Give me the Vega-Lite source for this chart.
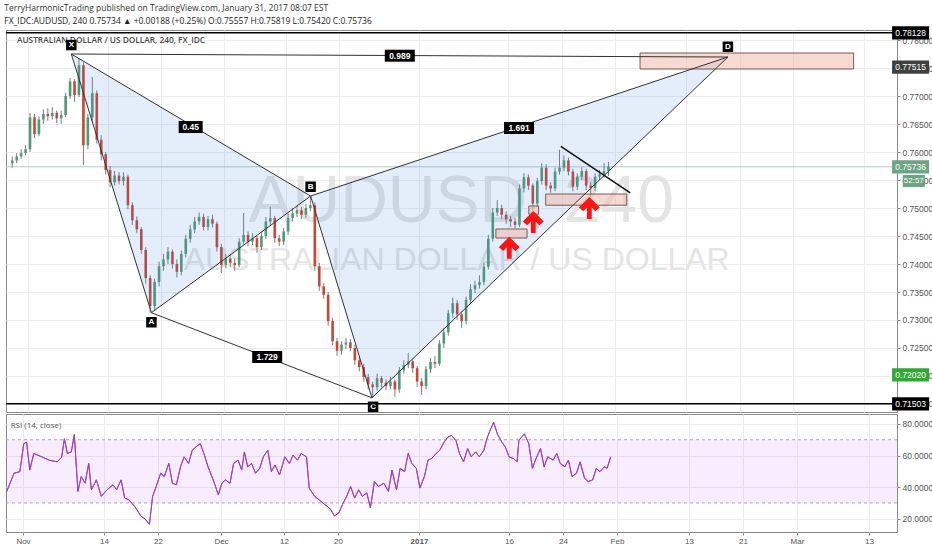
{
"$schema":"https://vega.github.io/schema/vega-lite/v6.json",
"background":"#ffffff",
"padding":{"left":4,"top":3,"right":0,"bottom":0},
"title":{"text":"TerryHarmonicTrading published on TradingView.com, January 31, 2017 08:07 EST","subtitle":"FX_IDC:AUDUSD, 240  0.75734 ▲ +0.00188 (+0.25%)  O:0.75557  H:0.75819  L:0.75420  C:0.75736","anchor":"start","frame":"bounds","font":"Open Sans","fontSize":8.5,"fontWeight":"normal","color":"#333333","subtitleFont":"Open Sans","subtitleFontSize":8.5,"subtitleFontWeight":"normal","subtitleColor":"#222222","subtitlePadding":4.5,"offset":0.5},
"spacing":2,
"bounds":"flush",
"datasets":{
"candles":[
{"t":-1.75,"o":0.7580,"h":0.7592,"l":0.7572,"c":0.7585},
{"t":-1.25,"o":0.7585,"h":0.7598,"l":0.7580,"c":0.7592},
{"t":-0.75,"o":0.7592,"h":0.7605,"l":0.7588,"c":0.7598},
{"t":-0.25,"o":0.7598,"h":0.7612,"l":0.7594,"c":0.7605},
{"t":0.25,"o":0.7605,"h":0.7670,"l":0.7600,"c":0.7662},
{"t":0.75,"o":0.7662,"h":0.7668,"l":0.7625,"c":0.7632},
{"t":1.25,"o":0.7632,"h":0.7664,"l":0.7628,"c":0.7658},
{"t":1.75,"o":0.7658,"h":0.7676,"l":0.7650,"c":0.7668},
{"t":2.25,"o":0.7668,"h":0.7678,"l":0.7656,"c":0.7664},
{"t":2.75,"o":0.7664,"h":0.7680,"l":0.7658,"c":0.7670},
{"t":3.25,"o":0.7670,"h":0.7674,"l":0.7652,"c":0.7660},
{"t":3.75,"o":0.7660,"h":0.7674,"l":0.7650,"c":0.7666},
{"t":4.25,"o":0.7666,"h":0.7706,"l":0.7662,"c":0.7700},
{"t":4.75,"o":0.7700,"h":0.7732,"l":0.7695,"c":0.7726},
{"t":5.25,"o":0.7726,"h":0.7730,"l":0.7690,"c":0.7702},
{"t":5.75,"o":0.7702,"h":0.7768,"l":0.7698,"c":0.7755},
{"t":6.25,"o":0.7755,"h":0.7760,"l":0.7577,"c":0.7612},
{"t":6.75,"o":0.7612,"h":0.7668,"l":0.7605,"c":0.7662},
{"t":7.25,"o":0.7662,"h":0.7734,"l":0.7655,"c":0.7705},
{"t":7.75,"o":0.7705,"h":0.7710,"l":0.7615,"c":0.7622},
{"t":8.25,"o":0.7622,"h":0.7630,"l":0.7585,"c":0.7596},
{"t":8.75,"o":0.7596,"h":0.7600,"l":0.7560,"c":0.7568},
{"t":9.25,"o":0.7568,"h":0.7575,"l":0.7537,"c":0.7546},
{"t":9.75,"o":0.7546,"h":0.7566,"l":0.7540,"c":0.7558},
{"t":10.25,"o":0.7558,"h":0.7564,"l":0.7542,"c":0.7548},
{"t":10.75,"o":0.7548,"h":0.7564,"l":0.7540,"c":0.7556},
{"t":11.25,"o":0.7556,"h":0.7560,"l":0.7498,"c":0.7505},
{"t":11.75,"o":0.7505,"h":0.7510,"l":0.7470,"c":0.7478},
{"t":12.25,"o":0.7478,"h":0.7485,"l":0.7455,"c":0.7462},
{"t":12.75,"o":0.7462,"h":0.7466,"l":0.7418,"c":0.7425},
{"t":13.25,"o":0.7425,"h":0.7430,"l":0.7365,"c":0.7375},
{"t":13.75,"o":0.7375,"h":0.7380,"l":0.7313,"c":0.7325},
{"t":14.25,"o":0.7325,"h":0.7374,"l":0.7318,"c":0.7368},
{"t":14.75,"o":0.7368,"h":0.7404,"l":0.7360,"c":0.7396},
{"t":15.25,"o":0.7396,"h":0.7418,"l":0.7388,"c":0.7408},
{"t":15.75,"o":0.7408,"h":0.7430,"l":0.7400,"c":0.7422},
{"t":16.25,"o":0.7422,"h":0.7426,"l":0.7392,"c":0.7400},
{"t":16.75,"o":0.7400,"h":0.7408,"l":0.7376,"c":0.7386},
{"t":17.25,"o":0.7386,"h":0.7424,"l":0.7380,"c":0.7418},
{"t":17.75,"o":0.7418,"h":0.7452,"l":0.7412,"c":0.7445},
{"t":18.25,"o":0.7445,"h":0.7470,"l":0.7438,"c":0.7462},
{"t":18.75,"o":0.7462,"h":0.7484,"l":0.7455,"c":0.7476},
{"t":19.25,"o":0.7476,"h":0.7492,"l":0.7470,"c":0.7484},
{"t":19.75,"o":0.7484,"h":0.7490,"l":0.7460,"c":0.7466},
{"t":20.25,"o":0.7466,"h":0.7486,"l":0.7460,"c":0.7480},
{"t":20.75,"o":0.7480,"h":0.7488,"l":0.7465,"c":0.7472},
{"t":21.25,"o":0.7472,"h":0.7476,"l":0.7422,"c":0.7430},
{"t":21.75,"o":0.7430,"h":0.7436,"l":0.7384,"c":0.7398},
{"t":22.25,"o":0.7398,"h":0.7418,"l":0.7392,"c":0.7410},
{"t":22.75,"o":0.7410,"h":0.7416,"l":0.7395,"c":0.7402},
{"t":23.25,"o":0.7402,"h":0.7410,"l":0.7388,"c":0.7398},
{"t":23.75,"o":0.7398,"h":0.7446,"l":0.7394,"c":0.7440},
{"t":24.25,"o":0.7440,"h":0.7491,"l":0.7436,"c":0.7452},
{"t":24.75,"o":0.7452,"h":0.7458,"l":0.7432,"c":0.7440},
{"t":25.25,"o":0.7440,"h":0.7455,"l":0.7434,"c":0.7446},
{"t":25.75,"o":0.7446,"h":0.7450,"l":0.7420,"c":0.7430},
{"t":26.25,"o":0.7430,"h":0.7458,"l":0.7425,"c":0.7450},
{"t":26.75,"o":0.7450,"h":0.7484,"l":0.7445,"c":0.7476},
{"t":27.25,"o":0.7476,"h":0.7502,"l":0.7470,"c":0.7482},
{"t":27.75,"o":0.7482,"h":0.7486,"l":0.7438,"c":0.7446},
{"t":28.25,"o":0.7446,"h":0.7452,"l":0.7432,"c":0.7440},
{"t":28.75,"o":0.7440,"h":0.7464,"l":0.7434,"c":0.7458},
{"t":29.25,"o":0.7458,"h":0.7490,"l":0.7452,"c":0.7482},
{"t":29.75,"o":0.7482,"h":0.7500,"l":0.7476,"c":0.7490},
{"t":30.25,"o":0.7490,"h":0.7504,"l":0.7484,"c":0.7496},
{"t":30.75,"o":0.7496,"h":0.7502,"l":0.7480,"c":0.7488},
{"t":31.25,"o":0.7488,"h":0.7508,"l":0.7482,"c":0.7500},
{"t":31.75,"o":0.7500,"h":0.7521,"l":0.7494,"c":0.7505},
{"t":32.25,"o":0.7505,"h":0.7510,"l":0.7388,"c":0.7396},
{"t":32.75,"o":0.7396,"h":0.7402,"l":0.7352,"c":0.7360},
{"t":33.25,"o":0.7360,"h":0.7366,"l":0.7338,"c":0.7345},
{"t":33.75,"o":0.7345,"h":0.7350,"l":0.7290,"c":0.7298},
{"t":34.25,"o":0.7298,"h":0.7304,"l":0.7255,"c":0.7262},
{"t":34.75,"o":0.7262,"h":0.7268,"l":0.7236,"c":0.7245},
{"t":35.25,"o":0.7245,"h":0.7262,"l":0.7238,"c":0.7256},
{"t":35.75,"o":0.7256,"h":0.7268,"l":0.7248,"c":0.7260},
{"t":36.25,"o":0.7260,"h":0.7266,"l":0.7244,"c":0.7250},
{"t":36.75,"o":0.7250,"h":0.7256,"l":0.7220,"c":0.7228},
{"t":37.25,"o":0.7228,"h":0.7234,"l":0.7208,"c":0.7216},
{"t":37.75,"o":0.7216,"h":0.7222,"l":0.7190,"c":0.7198},
{"t":38.25,"o":0.7198,"h":0.7204,"l":0.7176,"c":0.7185},
{"t":38.75,"o":0.7185,"h":0.7190,"l":0.7161,"c":0.7180},
{"t":39.25,"o":0.7180,"h":0.7204,"l":0.7174,"c":0.7196},
{"t":39.75,"o":0.7196,"h":0.7200,"l":0.7180,"c":0.7188},
{"t":40.25,"o":0.7188,"h":0.7194,"l":0.7175,"c":0.7182},
{"t":40.75,"o":0.7182,"h":0.7198,"l":0.7176,"c":0.7190},
{"t":41.25,"o":0.7190,"h":0.7194,"l":0.7163,"c":0.7176},
{"t":41.75,"o":0.7176,"h":0.7216,"l":0.7170,"c":0.7210},
{"t":42.25,"o":0.7210,"h":0.7228,"l":0.7204,"c":0.7220},
{"t":42.75,"o":0.7220,"h":0.7241,"l":0.7214,"c":0.7226},
{"t":43.25,"o":0.7226,"h":0.7230,"l":0.7206,"c":0.7214},
{"t":43.75,"o":0.7214,"h":0.7218,"l":0.7180,"c":0.7190},
{"t":44.25,"o":0.7190,"h":0.7196,"l":0.7166,"c":0.7182},
{"t":44.75,"o":0.7182,"h":0.7218,"l":0.7176,"c":0.7212},
{"t":45.25,"o":0.7212,"h":0.7232,"l":0.7205,"c":0.7225},
{"t":45.75,"o":0.7225,"h":0.7236,"l":0.7214,"c":0.7222},
{"t":46.25,"o":0.7222,"h":0.7264,"l":0.7218,"c":0.7258},
{"t":46.75,"o":0.7258,"h":0.7286,"l":0.7250,"c":0.7278},
{"t":47.25,"o":0.7278,"h":0.7318,"l":0.7272,"c":0.7312},
{"t":47.75,"o":0.7312,"h":0.7340,"l":0.7304,"c":0.7330},
{"t":48.25,"o":0.7330,"h":0.7336,"l":0.7300,"c":0.7310},
{"t":48.75,"o":0.7310,"h":0.7316,"l":0.7286,"c":0.7298},
{"t":49.25,"o":0.7298,"h":0.7342,"l":0.7292,"c":0.7336},
{"t":49.75,"o":0.7336,"h":0.7364,"l":0.7330,"c":0.7355},
{"t":50.25,"o":0.7355,"h":0.7370,"l":0.7348,"c":0.7362},
{"t":50.75,"o":0.7362,"h":0.7380,"l":0.7356,"c":0.7368},
{"t":51.25,"o":0.7368,"h":0.7402,"l":0.7362,"c":0.7395},
{"t":51.75,"o":0.7395,"h":0.7452,"l":0.7390,"c":0.7445},
{"t":52.25,"o":0.7445,"h":0.7500,"l":0.7440,"c":0.7492},
{"t":52.75,"o":0.7492,"h":0.7514,"l":0.7486,"c":0.7500},
{"t":53.25,"o":0.7500,"h":0.7506,"l":0.7480,"c":0.7488},
{"t":53.75,"o":0.7488,"h":0.7494,"l":0.7472,"c":0.7480},
{"t":54.25,"o":0.7480,"h":0.7486,"l":0.7466,"c":0.7476},
{"t":54.75,"o":0.7476,"h":0.7482,"l":0.7464,"c":0.7470},
{"t":55.25,"o":0.7470,"h":0.7542,"l":0.7466,"c":0.7535},
{"t":55.75,"o":0.7535,"h":0.7562,"l":0.7528,"c":0.7555},
{"t":56.25,"o":0.7555,"h":0.7560,"l":0.7532,"c":0.7540},
{"t":56.75,"o":0.7540,"h":0.7544,"l":0.7496,"c":0.7508},
{"t":57.25,"o":0.7508,"h":0.7554,"l":0.7502,"c":0.7548},
{"t":57.75,"o":0.7548,"h":0.7580,"l":0.7542,"c":0.7572},
{"t":58.25,"o":0.7572,"h":0.7578,"l":0.7532,"c":0.7540},
{"t":58.75,"o":0.7540,"h":0.7546,"l":0.7527,"c":0.7535},
{"t":59.25,"o":0.7535,"h":0.7572,"l":0.7530,"c":0.7565},
{"t":59.75,"o":0.7565,"h":0.7604,"l":0.7560,"c":0.7572},
{"t":60.25,"o":0.7572,"h":0.7594,"l":0.7566,"c":0.7585},
{"t":60.75,"o":0.7585,"h":0.7590,"l":0.7558,"c":0.7565},
{"t":61.25,"o":0.7565,"h":0.7570,"l":0.7530,"c":0.7538},
{"t":61.75,"o":0.7538,"h":0.7562,"l":0.7532,"c":0.7556},
{"t":62.25,"o":0.7556,"h":0.7573,"l":0.7550,"c":0.7566},
{"t":62.75,"o":0.7566,"h":0.7570,"l":0.7532,"c":0.7540},
{"t":63.25,"o":0.7540,"h":0.7546,"l":0.7520,"c":0.7536},
{"t":63.75,"o":0.7536,"h":0.7562,"l":0.7530,"c":0.7556},
{"t":64.25,"o":0.7556,"h":0.7568,"l":0.7550,"c":0.7560},
{"t":64.75,"o":0.7560,"h":0.7580,"l":0.7554,"c":0.7566},
{"t":65.25,"o":0.7566,"h":0.7582,"l":0.7557,"c":0.7574}
],
"rsi":[
{"t":-1.8,"r":37.3},{"t":-1.0,"r":48.8},{"t":-0.35,"r":49.8},{"t":0.08,"r":67.5},{"t":0.4,"r":68.5},{"t":0.75,"r":50.8},{"t":1.2,"r":61.3},{"t":2.07,"r":59.2},{"t":2.95,"r":57},{"t":3.8,"r":56},{"t":4.3,"r":59},{"t":4.6,"r":70.6},{"t":4.93,"r":61.3},{"t":5.37,"r":62.3},{"t":5.7,"r":73.3},{"t":6.1,"r":37.3},{"t":6.47,"r":46.7},{"t":6.9,"r":42.5},{"t":7.3,"r":55},{"t":7.6,"r":38.3},{"t":8.15,"r":44.6},{"t":8.7,"r":34.2},{"t":9.33,"r":38.3},{"t":10,"r":41.5},{"t":10.4,"r":38.3},{"t":10.9,"r":44.6},{"t":11.3,"r":33.1},{"t":11.75,"r":32},{"t":12.4,"r":27.9},{"t":13.1,"r":21.7},{"t":13.6,"r":19.6},{"t":14.05,"r":16.5},{"t":14.4,"r":34.2},{"t":14.8,"r":40.4},{"t":15.3,"r":48.8},{"t":15.7,"r":46.7},{"t":16.2,"r":55},{"t":16.6,"r":42.5},{"t":17.04,"r":41.5},{"t":17.5,"r":52.9},{"t":17.9,"r":59.2},{"t":18.4,"r":55},{"t":18.8,"r":63.3},{"t":19.2,"r":65.4},{"t":19.7,"r":67.5},{"t":20.1,"r":61.3},{"t":20.56,"r":52.9},{"t":21.2,"r":43.5},{"t":21.7,"r":35.2},{"t":22.1,"r":42.5},{"t":22.5,"r":44.6},{"t":23,"r":42.5},{"t":23.4,"r":55},{"t":23.9,"r":57.1},{"t":24.3,"r":50.8},{"t":24.6,"r":62.3},{"t":24.96,"r":52.9},{"t":25.4,"r":55},{"t":25.84,"r":48.8},{"t":26.3,"r":51.9},{"t":26.7,"r":59.2},{"t":27.2,"r":63.3},{"t":27.6,"r":49.8},{"t":28,"r":54},{"t":28.5,"r":47.7},{"t":29.1,"r":59.2},{"t":29.6,"r":55},{"t":30,"r":60.2},{"t":30.5,"r":57.1},{"t":30.9,"r":61.3},{"t":31.5,"r":59.2},{"t":31.8,"r":39.4},{"t":32.4,"r":34.2},{"t":32.9,"r":32},{"t":33.3,"r":30},{"t":33.8,"r":27.9},{"t":34.2,"r":25.8},{"t":34.6,"r":21.7},{"t":35.1,"r":23.8},{"t":35.5,"r":29},{"t":35.97,"r":34.2},{"t":36.4,"r":40.4},{"t":36.85,"r":33.1},{"t":37.3,"r":38.3},{"t":37.7,"r":34.2},{"t":38.2,"r":36.3},{"t":38.6,"r":26.9},{"t":39.05,"r":43.5},{"t":39.5,"r":40.4},{"t":40.1,"r":42.5},{"t":40.6,"r":37.3},{"t":41,"r":50.8},{"t":41.5,"r":38.3},{"t":41.9,"r":51.9},{"t":42.4,"r":49.8},{"t":42.8,"r":61.3},{"t":43.2,"r":55},{"t":43.7,"r":51.9},{"t":44.1,"r":39.4},{"t":44.6,"r":46.7},{"t":45,"r":57.1},{"t":45.4,"r":58.1},{"t":45.9,"r":61.3},{"t":46.3,"r":63.3},{"t":46.8,"r":68.5},{"t":47.2,"r":71.7},{"t":47.6,"r":72.7},{"t":48.1,"r":69.6},{"t":48.5,"r":61.3},{"t":48.95,"r":56},{"t":49.4,"r":64.4},{"t":49.8,"r":59.2},{"t":50.3,"r":62.3},{"t":50.7,"r":59.2},{"t":51.2,"r":63.3},{"t":51.6,"r":71.7},{"t":52.05,"r":77.9},{"t":52.3,"r":81},{"t":52.7,"r":73.8},{"t":53.2,"r":68.5},{"t":53.6,"r":65.4},{"t":54,"r":59.2},{"t":54.5,"r":58.1},{"t":54.9,"r":56},{"t":55.1,"r":69.6},{"t":55.7,"r":73.8},{"t":56.2,"r":67.5},{"t":56.6,"r":51.9},{"t":57,"r":58.1},{"t":57.5,"r":64.4},{"t":57.9,"r":52.9},{"t":58.3,"r":59.2},{"t":58.9,"r":57.1},{"t":59.3,"r":61.3},{"t":59.7,"r":55},{"t":60.2,"r":52.9},{"t":60.6,"r":57.1},{"t":61,"r":46.7},{"t":61.5,"r":48.8},{"t":61.9,"r":56},{"t":62.4,"r":45.6},{"t":62.8,"r":43.5},{"t":63.3,"r":44.6},{"t":63.7,"r":51.9},{"t":64.1,"r":49.8},{"t":64.6,"r":52.9},{"t":64.9,"r":51.9},{"t":65.3,"r":59.2}
],
"legs":[
{"t1":4.889,"p1":0.7775,"t2":13.89,"p2":0.7313},
{"t1":13.89,"p1":0.7313,"t2":31.78,"p2":0.75214},
{"t1":31.78,"p1":0.75214,"t2":38.67,"p2":0.7161},
{"t1":38.67,"p1":0.7161,"t2":78.67,"p2":0.77696},
{"t1":4.889,"p1":0.7775,"t2":31.78,"p2":0.75214},
{"t1":13.89,"p1":0.7313,"t2":38.67,"p2":0.7161},
{"t1":31.78,"p1":0.75214,"t2":78.67,"p2":0.77696},
{"t1":4.889,"p1":0.7775,"t2":78.67,"p2":0.77696}
],
"tri":[
{"g":"XAB","t":4.889,"p":0.7775,"p2":0.7775},
{"g":"XAB","t":13.89,"p":0.7313,"p2":0.76901},
{"g":"XAB","t":31.78,"p":0.75214,"p2":0.75214},
{"g":"BCD","t":31.78,"p":0.75214,"p2":0.75214},
{"g":"BCD","t":38.67,"p":0.7161,"p2":0.75579},
{"g":"BCD","t":78.67,"p":0.77696,"p2":0.77696}
],
"zones":[
{"t1":52.6,"t2":56.1,"p1":0.74625,"p2":0.74464},
{"t1":56.3,"t2":57.4,"p1":0.75036,"p2":0.7489},
{"t1":58.2,"t2":67.3,"p1":0.7525,"p2":0.7505},
{"t1":68.8,"t2":92.8,"p1":0.77768,"p2":0.77482}
],
"arrows":[{"t":54.1,"p":0.7429},{"t":56.8,"p":0.7475},{"t":63.1,"p":0.75}],
"ratios":[{"t":18.3,"p":0.76446,"lbl":"0.45"},{"t":26.9,"p":0.72339,"lbl":"1.729"},{"t":55.2,"p":0.76429,"lbl":"1.691"},{"t":41.8,"p":0.7772,"lbl":"0.989"}],
"points":[{"t":4.889,"p":0.7791,"lbl":"X"},{"t":13.89,"p":0.7296,"lbl":"A"},{"t":31.78,"p":0.7538,"lbl":"B"},{"t":38.8,"p":0.7145,"lbl":"C"},{"t":78.67,"p":0.7788,"lbl":"D"}],
"badges":[{"p":0.78128,"lbl":"0.78128","kind":"line"},{"p":0.77515,"lbl":"0.77515","kind":"zone"},{"p":0.75736,"lbl":"0.75736","kind":"last"},{"p":0.7202,"lbl":"0.72020","kind":"prev"},{"p":0.71503,"lbl":"0.71503","kind":"line"}]
},
"vconcat":[
{"width":891,"height":382,
"layer":[
{"data":{"values":[{"t":48.7,"p":0.7511,"txt":"AUDUSD, 240"}]},
 "mark":{"type":"text","font":"Liberation Sans","fontSize":66,"color":"#e4e4e4","align":"center","baseline":"middle"},
 "encoding":{
  "x":{"field":"t","type":"quantitative","title":null,"scale":{"domain":[-1.889,97.111],"nice":false,"zero":false},"axis":{"values":[0,9,15,22,29,35,44,54,60,66,74,80,86,94],"tickCount":40,"labels":false,"ticks":false,"grid":true,"title":null}},
  "y":{"field":"p","type":"quantitative","title":null,"scale":{"domain":[0.71357,0.78179],"nice":false,"zero":false},"axis":{"orient":"right","values":[0.715,0.72,0.725,0.73,0.735,0.74,0.745,0.75,0.755,0.76,0.765,0.77,0.775,0.78],"tickCount":40,"format":".5f","labelOverlap":false,"grid":true,"ticks":true,"tickSize":3,"labelPadding":2,"labelLimit":31,"title":null}},
  "text":{"field":"txt"}}},
{"data":{"values":[{"t":48.2,"p":0.7407,"txt":"AUSTRALIAN DOLLAR / US DOLLAR"}]},
 "mark":{"type":"text","font":"Liberation Sans","fontSize":32,"color":"#e4e4e4","align":"center","baseline":"middle"},
 "encoding":{"x":{"field":"t","type":"quantitative","title":null},"y":{"field":"p","type":"quantitative","title":null},"text":{"field":"txt"}}},
{"data":{"values":[{"t":-1.22,"p":0.77982,"txt":"AUSTRALIAN DOLLAR / US DOLLAR, 240, FX_IDC"}]},
 "mark":{"type":"text","font":"Open Sans","fontSize":8.3,"fontWeight":600,"color":"#4a4a4a","align":"left","baseline":"middle"},
 "encoding":{"x":{"field":"t","type":"quantitative","title":null},"y":{"field":"p","type":"quantitative","title":null},"text":{"field":"txt"}}},
{"data":{"values":[{"p":0.75736}]},
 "mark":{"type":"rule","color":"#b9cbbf","strokeWidth":1},
 "encoding":{"y":{"field":"p","type":"quantitative","title":null}}},
{"data":{"name":"candles"},
 "mark":{"type":"rule","color":"#7d7d7d","strokeWidth":1},
 "encoding":{"x":{"field":"t","type":"quantitative","title":null},"y":{"field":"l","type":"quantitative","title":null},"y2":{"field":"h"}}},
{"data":{"name":"candles"},
 "mark":{"type":"bar","size":2.6},
 "encoding":{"x":{"field":"t","type":"quantitative","title":null},"y":{"field":"o","type":"quantitative","title":null},"y2":{"field":"c"},
  "color":{"condition":{"test":"datum.c >= datum.o","value":"#4f9a74"},"value":"#c4473a"}}},
{"data":{"name":"tri"},
 "mark":{"type":"area","color":"#3f7fdc","opacity":0.14},
 "encoding":{"x":{"field":"t","type":"quantitative","title":null},"y":{"field":"p","type":"quantitative","title":null},"y2":{"field":"p2"},"detail":{"field":"g"}}},
{"data":{"name":"zones"},
 "mark":{"type":"rect","fill":"#eeb9aa","fillOpacity":0.55,"stroke":"#7b5a55","strokeWidth":1},
 "encoding":{"x":{"field":"t1","type":"quantitative","title":null},"x2":{"field":"t2"},"y":{"field":"p1","type":"quantitative","title":null},"y2":{"field":"p2"}}},
{"data":{"name":"legs"},
 "mark":{"type":"rule","color":"#333333","strokeWidth":1},
 "encoding":{"x":{"field":"t1","type":"quantitative","title":null},"x2":{"field":"t2"},"y":{"field":"p1","type":"quantitative","title":null},"y2":{"field":"p2"}}},
{"data":{"values":[{"t1":59.9,"p1":0.761,"t2":67.7,"p2":0.7527}]},
 "mark":{"type":"rule","color":"#111111","strokeWidth":1.5},
 "encoding":{"x":{"field":"t1","type":"quantitative","title":null},"x2":{"field":"t2"},"y":{"field":"p1","type":"quantitative","title":null},"y2":{"field":"p2"}}},
{"data":{"name":"arrows"},
 "mark":{"type":"point","shape":"M0,-1L0.95,-0.05L0.55,0.3L0.22,-0.05L0.22,1L-0.22,1L-0.22,-0.05L-0.55,0.3L-0.95,-0.05Z","size":484,"filled":true,"color":"#ff1212","opacity":1},
 "encoding":{"x":{"field":"t","type":"quantitative","title":null},"y":{"field":"p","type":"quantitative","title":null}}},
{"data":{"name":"ratios"},"transform":[{"filter":"length(datum.lbl) > 4"}],
 "mark":{"type":"point","shape":"M-1,-0.4L1,-0.4L1,0.4L-1,0.4Z","size":900,"filled":true,"color":"#000000","opacity":1},
 "encoding":{"x":{"field":"t","type":"quantitative","title":null},"y":{"field":"p","type":"quantitative","title":null}}},
{"data":{"name":"ratios"},"transform":[{"filter":"length(datum.lbl) <= 4"}],
 "mark":{"type":"point","shape":"M-1,-0.5L1,-0.5L1,0.5L-1,0.5Z","size":576,"filled":true,"color":"#000000","opacity":1},
 "encoding":{"x":{"field":"t","type":"quantitative","title":null},"y":{"field":"p","type":"quantitative","title":null}}},
{"data":{"name":"ratios"},
 "mark":{"type":"text","font":"Liberation Sans","fontSize":8.5,"fontWeight":"bold","color":"#ffffff","align":"center","baseline":"middle"},
 "encoding":{"x":{"field":"t","type":"quantitative","title":null},"y":{"field":"p","type":"quantitative","title":null},"text":{"field":"lbl"}}},
{"data":{"name":"points"},
 "mark":{"type":"point","shape":"square","size":110,"filled":true,"color":"#000000","opacity":1},
 "encoding":{"x":{"field":"t","type":"quantitative","title":null},"y":{"field":"p","type":"quantitative","title":null}}},
{"data":{"name":"points"},
 "mark":{"type":"text","font":"Liberation Sans","fontSize":8,"fontWeight":"bold","color":"#ffffff","align":"center","baseline":"middle"},
 "encoding":{"x":{"field":"t","type":"quantitative","title":null},"y":{"field":"p","type":"quantitative","title":null},"text":{"field":"lbl"}}},
{"data":{"values":[{"p":0.78128},{"p":0.71503}]},
 "mark":{"type":"rule","color":"#000000","strokeWidth":1.5},
 "encoding":{"y":{"field":"p","type":"quantitative","title":null}}},
{"data":{"name":"badges"},
 "mark":{"type":"point","shape":"M-1,-0.36L1,-0.36L1,0.36L-1,0.36Z","size":1369,"filled":true,"opacity":1},
 "encoding":{"x":{"datum":99.2,"type":"quantitative","title":null},"y":{"field":"p","type":"quantitative","title":null},
  "color":{"field":"kind","type":"nominal","scale":{"domain":["line","zone","last","prev"],"range":["#000000","#404040","#6ba583","#2eaa2e"]},"legend":null}}},
{"data":{"name":"badges"},
 "mark":{"type":"text","font":"Liberation Sans","fontSize":8.5,"color":"#ffffff","align":"center","baseline":"middle"},
 "encoding":{"x":{"datum":99.2,"type":"quantitative","title":null},"y":{"field":"p","type":"quantitative","title":null},"text":{"field":"lbl"}}},
{"data":{"values":[{"p":0.75482,"lbl":"52:57","kind":"last"}]},
 "mark":{"type":"point","shape":"M-1,-0.55L1,-0.55L1,0.55L-1,0.55Z","size":484,"filled":true,"opacity":1},
 "encoding":{"x":{"datum":99.56,"type":"quantitative","title":null},"y":{"field":"p","type":"quantitative","title":null},
  "color":{"field":"kind","type":"nominal","legend":null}}},
{"data":{"values":[{"p":0.75482,"lbl":"52:57"}]},
 "mark":{"type":"text","font":"Liberation Sans","fontSize":8,"color":"#ffffff","align":"center","baseline":"middle"},
 "encoding":{"x":{"datum":99.56,"type":"quantitative","title":null},"y":{"field":"p","type":"quantitative","title":null},"text":{"field":"lbl"}}}
]},
{"width":891,"height":118,
"layer":[
{"data":{"name":"rsi"},
 "mark":{"type":"line","color":"#9b40c4","strokeWidth":1},
 "encoding":{
  "x":{"field":"t","type":"quantitative","title":null,"scale":{"domain":[-1.889,97.111],"nice":false,"zero":false},
   "axis":{"values":[0,9,15,22,29,35,44,54,60,66,74,80,86,94],"tickCount":40,
    "labelExpr":"['Nov','14','22','Dec','12','20','2017','16','24','Feb','13','21','Mar','13'][indexof([0,9,15,22,29,35,44,54,60,66,74,80,86,94], datum.value)]",
    "labelFontWeight":{"condition":{"test":"datum.value == 44","value":"bold"},"value":"normal"},
    "labelFlush":false,"labelOverlap":false,"grid":true,"ticks":true,"tickSize":3,"labelPadding":2,"labelFontSize":8,"title":null}},
  "y":{"field":"r","type":"quantitative","title":null,"scale":{"domain":[11.6,86.3],"nice":false,"zero":false},
   "axis":{"orient":"right","values":[20,40,60,80],"tickCount":20,"format":".4f","labelOverlap":false,"grid":true,"ticks":true,"tickSize":3,"labelPadding":2,"labelLimit":31,"title":null}}}},
{"data":{"values":[{"a":30,"b":70}]},
 "mark":{"type":"rect","color":"#9915ff","opacity":0.08},
 "encoding":{"x":{"datum":-1.889,"type":"quantitative","title":null},"x2":{"datum":97.111},"y":{"field":"a","type":"quantitative","title":null},"y2":{"field":"b"}}},
{"data":{"values":[{"a":30},{"a":70}]},
 "mark":{"type":"rule","color":"#b3a1bf","strokeDash":[3,3],"strokeWidth":1},
 "encoding":{"y":{"field":"a","type":"quantitative","title":null}}},
{"data":{"name":"rsi"},
 "mark":{"type":"line","color":"#9b40c4","strokeWidth":1},
 "encoding":{"x":{"field":"t","type":"quantitative","title":null},"y":{"field":"r","type":"quantitative","title":null}}},
{"data":{"values":[{"t":-1.37,"r":78.7,"txt":"RSI (14, close)"}]},
 "mark":{"type":"text","font":"Open Sans","fontSize":8,"color":"#555555","align":"left","baseline":"middle"},
 "encoding":{"x":{"field":"t","type":"quantitative","title":null},"y":{"field":"r","type":"quantitative","title":null},"text":{"field":"txt"}}}
]}
],
"config":{"view":{"stroke":"#8a8a8a","strokeWidth":1},"axis":{"labelFont":"Liberation Sans","labelFontSize":8.5,"labelColor":"#555555","gridColor":"#ededed","tickColor":"#8a8a8a","domain":false}}
}
